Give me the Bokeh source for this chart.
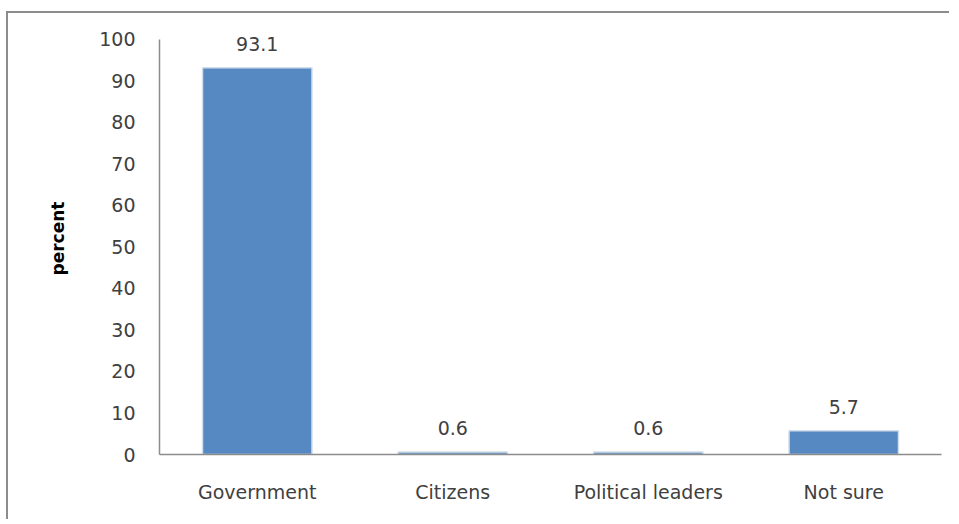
from bokeh.plotting import figure
from bokeh.models import ColumnDataSource, LabelSet, Range1d, FixedTicker
from bokeh.core.properties import value
from bokeh.embed import file_html
from bokeh.resources import INLINE

categories = ["Government", "Citizens", "Political leaders", "Not sure"]
values = [93.1, 0.6, 0.6, 5.7]
labels = ["93.1", "0.6", "0.6", "5.7"]
y_ticks = [0, 10, 20, 30, 40, 50, 60, 70, 80, 90, 100]

src = ColumnDataSource(dict(cat=categories, val=values, lab=labels))

FONT = "DejaVu Sans"
TXT = "#404040"

p = figure(x_range=categories, y_range=Range1d(0, 104),
           width=943, height=508, output_backend="svg", toolbar_location=None,
           min_border_left=151, min_border_right=10, min_border_top=9, min_border_bottom=67)
p.styles = {"border-top": "2px solid #8c8c8c", "border-left": "2px solid #8c8c8c",
            "box-sizing": "border-box", "margin-top": "11px", "margin-left": "6px"}
p.outline_line_color = None
p.grid.grid_line_color = None
p.x_range.range_padding = 0

p.vbar(x="cat", top="val", width=0.56, source=src,
       fill_color="#5689C2", line_color="#d4deea", line_width=1.5)

p.add_layout(LabelSet(x="cat", y="val", text="lab", source=src, y_offset=17,
                      text_align="center", text_baseline="alphabetic",
                      text_font=value(FONT), text_font_size=value("19px"),
                      text_color=TXT))

p.yaxis.ticker = FixedTicker(ticks=y_ticks)
p.yaxis.bounds = (0, 100)
p.yaxis.axis_label = "percent"
p.yaxis.axis_label_text_font = FONT
p.yaxis.axis_label_text_font_style = "bold"
p.yaxis.axis_label_text_font_size = "17px"
p.yaxis.axis_label_text_color = "#000000"
p.yaxis.axis_label_standoff = 28
for ax in (p.xaxis, p.yaxis):
    ax.axis_line_color = "#8c8c8c"
    ax.axis_line_width = 1.5
    ax.major_tick_line_color = None
    ax.minor_tick_line_color = None
    ax.major_label_text_font = FONT
    ax.major_label_text_font_size = "19px"
    ax.major_label_text_color = TXT
p.yaxis.major_label_standoff = 18
p.xaxis.major_label_standoff = 20

open("out.html", "w").write(file_html(p, INLINE))
